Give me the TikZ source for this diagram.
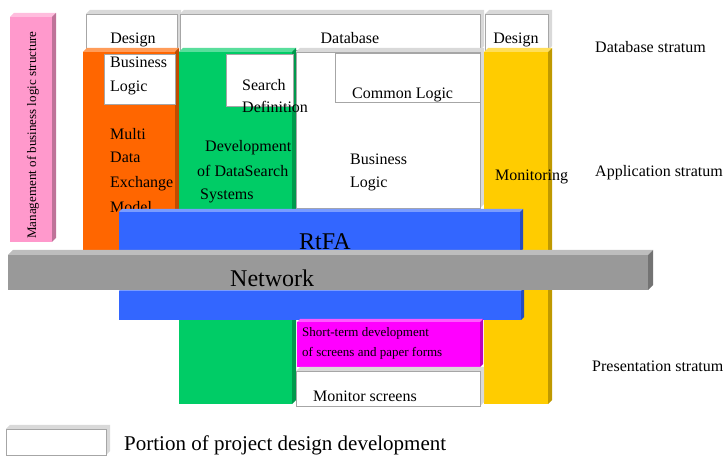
\documentclass[tikz,border=0pt]{standalone}
\usepackage{fontspec}
\setmainfont{Liberation Serif}
\definecolor{mgtPink}{HTML}{FF99CC}
\definecolor{mdeOrange}{HTML}{FF6600}
\definecolor{dssGreen}{HTML}{00CC66}
\definecolor{monYellow}{HTML}{FFCC00}
\definecolor{rtfaBlue}{HTML}{3366FF}
\definecolor{netGray}{HTML}{999999}
\definecolor{scrMagenta}{HTML}{FF00FF}
% slab: front face (#2,#3)-(#4,#5), extruded #1 to the upper right
\newcommand{\slab}[6][4]{%
  \fill[#6!65!white] (#2,#3) -- (#2+#1,#3-#1) -- (#4+#1,#3-#1) -- (#4,#3) -- cycle;
  \fill[#6!75!black] (#4,#3) -- (#4+#1,#3-#1) -- (#4+#1,#5-#1) -- (#4,#5) -- cycle;
  \fill[#6] (#2,#3) rectangle (#4,#5);
}
% white box with a grey edge
\newcommand{\wbox}[4]{%
  \fill[gray!30] (#1,#2) -- (#1+4,#2-4) -- (#3+4,#2-4) -- (#3+4,#4-4) -- (#3,#4) -- cycle;
  \draw[gray!70, fill=white] (#1,#2) rectangle (#3,#4);
}
\begin{document}
\begin{tikzpicture}[x=1pt, y=-1pt,
    txt/.style={anchor=base west, inner sep=0pt, font=\fontsize{16}{18}\selectfont},
    ctxt/.style={txt, anchor=base},
    small/.style={txt, font=\fontsize{13}{15}\selectfont},
    big/.style={txt, font=\fontsize{24}{28}\selectfont}]
  \useasboundingbox (0,0) rectangle (724,457);
  % management bar
  \slab{10}{17}{52}{242}{mgtPink}
  \node[small, rotate=90, anchor=center] (mgt) at (33,135) {Management of business logic structure};
  % database stratum
  \wbox{86}{14}{177}{50}
  \wbox{180}{14}{480}{50}
  \wbox{485}{14}{548}{50}
  \node[ctxt] (dsgnL) at (133,44) {Design};
  \node[ctxt] (db) at (350,44) {Database};
  \node[ctxt] (dsgnR) at (516,44) {Design};
  % application columns
  \slab{83}{52}{175}{252}{mdeOrange}
  \slab{179}{52}{292}{404}{dssGreen}
  \wbox{296}{52}{480}{208}
  \slab{484}{52}{548}{404}{monYellow}
  \draw[gray!70, fill=white] (104,54) rectangle (175,104);
  \draw[gray!70, fill=white] (226,54) rectangle (293,106);
  \draw[gray!70, fill=white] (335,53) rectangle (480,102);
  \node[txt] (blA) at (110,68) {Business};
  \node[txt] (blB) at (110,92) {Logic};
  \foreach \y/\w [count=\i] in {140/Multi, 163/Data, 188/Exchange, 213/Model}
    \node[txt] (mde\i) at (110,\y) {\w};
  \node[txt] (srchA) at (242,91) {Search};
  \node[txt] (srchB) at (242,113) {Definition};
  \node[txt] (dssA) at (205,152) {Development};
  \node[txt] (dssB) at (197,177) {of DataSearch};
  \node[txt] (dssC) at (200,200) {Systems};
  \node[txt] (cl) at (352,99) {Common Logic};
  \node[txt] (bl2A) at (350,165) {Business};
  \node[txt] (bl2B) at (350,188) {Logic};
  \node[txt] (mon) at (495,181) {Monitoring};
  % RtFA and network
  \slab[3]{119}{291}{521}{320}{rtfaBlue}
  \slab[3]{119}{212}{520}{252}{rtfaBlue}
  \slab[5]{8}{255}{648}{290}{netGray}
  \node[big, anchor=base] (rtfa) at (325,250) {RtFA};
  \node[big] (net) at (230,287) {Network};
  % presentation stratum
  \slab[3]{297}{322}{480}{367}{scrMagenta}
  \node[small] (stA) at (302,337) {Short-term development};
  \node[small] (stB) at (302,357) {of screens and paper forms};
  \wbox{296}{371}{480}{406}
  \node[txt] (scr) at (313,402) {Monitor screens};
  % strata
  \node[txt] (sDb) at (595,53) {Database stratum};
  \node[txt] (sApp) at (595,177) {Application stratum};
  \node[txt] (sPre) at (592,372) {Presentation stratum};
  % legend
  \wbox{6}{429}{106}{455}
  \node[txt, font=\fontsize{21}{24}\selectfont] (leg) at (124,451) {Portion of project design development};
\end{tikzpicture}
\end{document}
